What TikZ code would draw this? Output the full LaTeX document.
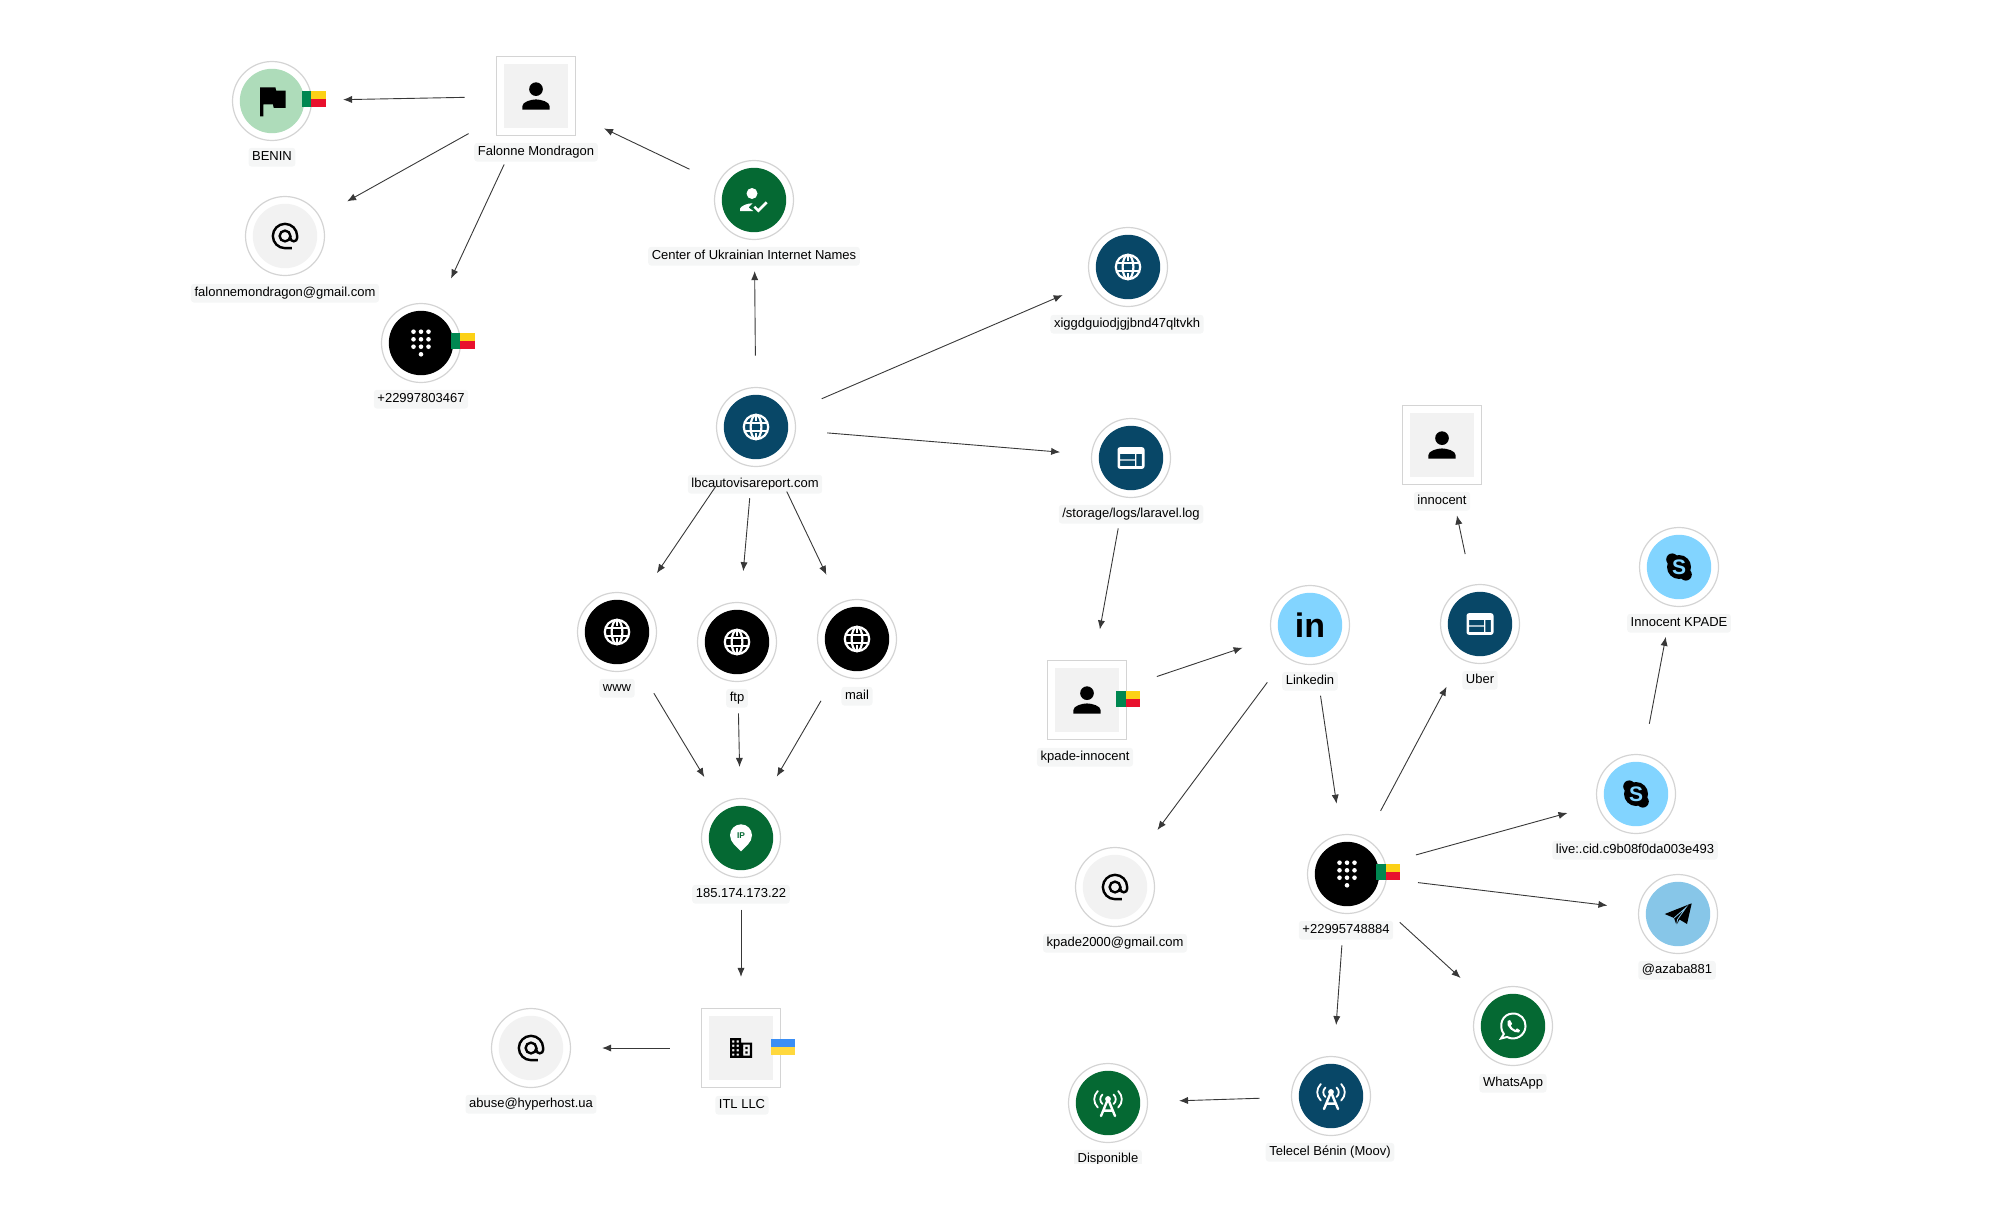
\documentclass[tikz,border=0pt]{standalone}
\usepackage{fontspec}
\setmainfont{Liberation Sans}
\usetikzlibrary{arrows.meta,calc}
\definecolor{ringgray}{RGB}{212,212,212}
\definecolor{softgray}{RGB}{242,242,242}
\definecolor{taggray}{RGB}{245,246,246}
\definecolor{linkgray}{RGB}{56,56,56}
\definecolor{domainblue}{RGB}{8,71,103}
\definecolor{okgreen}{RGB}{5,105,51}
\definecolor{palegreen}{RGB}{174,220,186}
\definecolor{skyblue}{RGB}{130,212,255}
\definecolor{teleblue}{RGB}{135,198,232}
\definecolor{bjgreen}{RGB}{0,135,81}
\definecolor{bjyellow}{RGB}{252,209,22}
\definecolor{bjred}{RGB}{232,17,45}
\definecolor{uablue}{RGB}{58,142,245}
\definecolor{uayellow}{RGB}{255,216,61}
\tikzset{
  ringnode/.style={circle,draw=ringgray,line width=.6pt,fill=white,outer sep=0pt,
    inner sep=0pt,minimum size=39.5pt},
  boxnode/.style={rectangle,draw=ringgray,line width=.6pt,fill=white,outer sep=0pt,
    inner sep=0pt,minimum size=39.5pt},
  disc/.style={path picture={\fill[#1] (path picture bounding box.center) circle (32.2);}},
  tile/.style={path picture={\fill[softgray] ([shift={(-32.2,-32.2)}]path picture bounding box.center)
    rectangle ([shift={(32.2,32.2)}]path picture bounding box.center);}},
  tag/.style={fill=taggray,rounded corners=1.5pt,inner xsep=1.8pt,inner ysep=1.5pt,yshift=-.6pt,
    text height=5pt,text depth=1.4pt,font=\fontsize{6.5}{7}\selectfont,text=black},
  link/.style={draw=linkgray,line width=.45pt,-{Latex[length=4.5pt,width=3.6pt]},
    shorten >=15.8pt,shorten <=16pt},
  material/.style={scale=#1,shift={(-12,-12)}},
  pics/person/.style={code={
    \begin{scope}[material=1.71]
      \fill (12,8) circle (4);
      \fill (4,20) -- (4,18) .. controls (4,15.34) and (9.33,14) .. (12,14)
        .. controls (14.67,14) and (20,15.34) .. (20,18) -- (20,20) -- cycle;
    \end{scope}}},
  pics/flagpole/.style={code={
    \begin{scope}[material=1.71]
      \fill (14.4,6) -- (14,4) -- (5,4) -- (5,21) -- (7,21) -- (7,14) -- (12.6,14)
        -- (13,16) -- (20,16) -- (20,6) -- cycle;
    \end{scope}}},
  pics/atsign/.style={code={
    \begin{scope}[material=1.35]
      \draw[line width=1.2pt] (17,21) -- (12,21) arc (90:360:9) -- (21,13.43)
        arc (0:180:2.5) -- (16,12);
      \draw[line width=1.2pt] (12,12) circle (4);
    \end{scope}}},
  pics/dialpad/.style={code={
    \foreach \dy in {-11.3,-3.7,3.7} \foreach \dx in {-7.5,0,7.5}
      \fill[white] (\dx,\dy) circle (2.3);
    \fill[white] (0,11.3) circle (2.3);}},
  pics/globe/.style={code={
    \begin{scope}[white,line width=1.1pt]
      \draw (0,0) circle (12.2);
      \draw (0,0) ellipse (5.4 and 12.2);
      \draw (-11,-4.3) -- (11,-4.3) (-11,4.3) -- (11,4.3);
      \draw (0,-12.2) -- (0,-6) (0,6) -- (0,12.2);
    \end{scope}}},
  pics/webpage/.style={code={
    \begin{scope}[material=1.35]
      \fill[white,even odd rule] [rounded corners=1.2pt] (2,4) rectangle (22,20)
        [sharp corners] (4,9) rectangle (15,13) (4,14) rectangle (15,18)
        (16,9) rectangle (20,18);
    \end{scope}}},
  pics/verified/.style={code={
    \fill[white] (-2,-6.5) circle (5.5);
    \fill[white] (-14,11) -- (-14,8.5) .. controls (-12,5.5) and (-7,3.3) .. (-1.5,3.3)
      -- (-5.5,7.5) -- (-.7,11) -- cycle;
    \draw[white,line width=1.25pt] (.3,6.7) -- (4.3,10.7) -- (12.7,2.3);}},
  pics/ippin/.style={code={
    \fill[white] (0,13.3) .. controls (-4,9) and (-11,4.5) .. (-11,-2.7)
      arc (180:360:11) .. controls (11,4.5) and (4,9) .. (0,13.3) -- cycle;
    \node[text=okgreen,font=\bfseries\fontsize{4.2}{4}\selectfont,inner sep=0pt] (-text) at (0,-2.7) {IP};}},
  pics/tower/.style={code={
    \begin{scope}[white,line cap=round]
      \fill (0,-4) circle (2.9);
      \draw[line width=1.2pt] (-7,13) -- (0,-4) -- (7,13) (-4,7.6) -- (4,7.6);
      \draw[line width=.9pt] (-5.5,-8.5) .. controls (-8.5,-6) and (-8.5,-1.5) .. (-5.5,1)
        (5.5,-8.5) .. controls (8.5,-6) and (8.5,-1.5) .. (5.5,1)
        (-10.2,-12) .. controls (-15,-7) and (-15,-0.5) .. (-10.2,4.5)
        (10.2,-12) .. controls (15,-7) and (15,-0.5) .. (10.2,4.5);
    \end{scope}}},
  pics/skypelogo/.style={code={
    \fill (0,0) circle (12);
    \fill (-6.8,-7.6) circle (6);
    \fill (6.8,7.6) circle (6);
    \node[text=skyblue,font=\bfseries\fontsize{10.5}{11}\selectfont,inner sep=0pt] (-text) at (0,0) {S};}},
  pics/linkedinlogo/.style={code={
    \node[font=\bfseries\fontsize{17}{17}\selectfont,inner sep=0pt] (-text) at (0,0) {in};}},
  pics/plane/.style={code={
    \fill (-13.3,0) -- (13.7,-10.7) -- (9,10) -- (1.5,5.5) -- (-1.5,11) -- (-4,4) -- cycle;
    \draw[teleblue,line width=.4pt] (-4,4) -- (8,-6.5) -- (-.5,5.5) -- (-1.5,11);}},
  pics/whatsapplogo/.style={code={
    \draw[white,line width=1pt] (-9.2,8) .. controls (-15,0) and (-11,-12.5) .. (0,-12.5)
      .. controls (7.5,-12.5) and (12.5,-7) .. (12.5,0) .. controls (12.5,9) and (3,15.5) .. (-6,11)
      -- (-12,12.5) -- cycle;
    \fill[white] (-5.5,-5) -- (-3,-6) -- (-.8,-2) -- (-2.3,-.5)
      .. controls (-1.5,1.5) and (0,3) .. (2.5,4) -- (4,2.3) -- (7,4.3) -- (6,6.5)
      .. controls (1,7.5) and (-7.5,1) .. (-5.5,-5) -- cycle;}},
  pics/company/.style={code={
    \begin{scope}[material=1.1]
      \fill[even odd rule] (2,3) rectangle (12,21) (12,7) rectangle (22,21)
        (4,5) rectangle (6,7) (8,5) rectangle (10,7)
        (4,9) rectangle (6,11) (8,9) rectangle (10,11)
        (4,13) rectangle (6,15) (8,13) rectangle (10,15)
        (4,17) rectangle (6,19) (8,17) rectangle (10,19)
        (14,9) rectangle (20,19);
      \fill (16,11) rectangle (18,13) (16,15) rectangle (18,17);
      \fill (12,9) rectangle (14,11) (12,13) rectangle (14,15) (12,17) rectangle (14,19);
    \end{scope}}},
  pics/flagbj/.style={code={
    \fill[bjgreen] (-12,-8) rectangle (-2.5,8);
    \fill[bjyellow] (-2.5,-8) rectangle (12,0);
    \fill[bjred] (-2.5,0) rectangle (12,8);}},
  pics/flagua/.style={code={
    \fill[uablue] (-12,-8) rectangle (12,0);
    \fill[uayellow] (-12,0) rectangle (12,8);}},
}
\begin{document}
\begin{tikzpicture}[x=.5pt,y=-.5pt]
  \useasboundingbox (0,0) rectangle (2000,1204);
  % upper left group
  \node[boxnode,tile] (falonne) at (536,96) {};
  \node[ringnode,disc=palegreen] (benin) at (272,101) {};
  \node[ringnode,disc=softgray] (falmail) at (285,236) {};
  \node[ringnode,disc=black] (falphone) at (421,343) {};
  \node[ringnode,disc=okgreen] (ucn) at (754,200) {};
  \pic at (falonne) {person};
  \pic at (benin) {flagpole};
  \pic at (falmail) {atsign};
  \pic at (falphone) {dialpad};
  \pic at (ucn) {verified};
  \pic at ($(benin)+(41.5,-2)$) {flagbj};
  \pic at ($(falphone)+(41.5,-2)$) {flagbj};
  \node[tag] (falonnetag) at (536,151) {Falonne Mondragon};
  \node[tag] (benintag) at (272,156) {BENIN};
  \node[tag] (falmailtag) at (285,292) {falonnemondragon@gmail.com};
  \node[tag] (falphonetag) at (421,398) {+22997803467};
  \node[tag] (ucntag) at (754,255) {Center of Ukrainian Internet Names};

  % domain and its subdomains
  \node[ringnode,disc=domainblue] (domain) at (756,427) {};
  \node[ringnode,disc=domainblue] (onion) at (1128,267) {};
  \node[ringnode,disc=domainblue] (logfile) at (1131,458) {};
  \node[ringnode,disc=black] (www) at (617,632) {};
  \node[ringnode,disc=black] (ftp) at (737,642) {};
  \node[ringnode,disc=black] (mail) at (857,639) {};
  \node[ringnode,disc=okgreen] (ip) at (741,838) {};
  \node[boxnode,tile] (itl) at (741,1048) {};
  \node[ringnode,disc=softgray] (abuse) at (531,1048) {};
  \foreach \n in {domain,onion,www,ftp,mail} \pic at (\n) {globe};
  \pic at (logfile) {webpage};
  \pic (ipicon) at (ip) {ippin};
  \pic at (itl) {company};
  \pic at (abuse) {atsign};
  \pic at ($(itl)+(42,-1)$) {flagua};
  \node[tag] (domaintag) at (755,483) {lbcautovisareport.com};
  \node[tag] (oniontag) at (1127,323) {xiggdguiodjgjbnd47qltvkh};
  \node[tag] (logfiletag) at (1131,513) {/storage/logs/laravel.log};
  \node[tag] (wwwtag) at (617,687) {www};
  \node[tag] (ftptag) at (737,697) {ftp};
  \node[tag] (mailtag) at (857,695) {mail};
  \node[tag] (iptag) at (741,893) {185.174.173.22};
  \node[tag] (itltag) at (742,1104) {ITL LLC};
  \node[tag] (abusetag) at (531,1103) {abuse@hyperhost.ua};

  % right group
  \node[boxnode,tile] (kpade) at (1087,700) {};
  \node[ringnode,disc=skyblue] (linkedin) at (1310,625) {};
  \node[ringnode,disc=softgray] (kpmail) at (1115,887) {};
  \node[ringnode,disc=black] (kpphone) at (1347,874) {};
  \node[ringnode,disc=domainblue] (uber) at (1480,624) {};
  \node[boxnode,tile] (innocent) at (1442,445) {};
  \node[ringnode,disc=skyblue] (skypeid) at (1636,794) {};
  \node[ringnode,disc=skyblue] (skypename) at (1679,567) {};
  \node[ringnode,disc=teleblue] (telegram) at (1678,914) {};
  \node[ringnode,disc=okgreen] (whatsapp) at (1513,1026) {};
  \node[ringnode,disc=domainblue] (telecel) at (1331,1096) {};
  \node[ringnode,disc=okgreen] (disponible) at (1108,1103) {};
  \pic at (kpade) {person};
  \pic at (innocent) {person};
  \pic (inicon) at (linkedin) {linkedinlogo};
  \pic at (kpmail) {atsign};
  \pic at (kpphone) {dialpad};
  \pic at (uber) {webpage};
  \pic (skypeidicon) at (skypeid) {skypelogo};
  \pic (skypenameicon) at (skypename) {skypelogo};
  \pic at (telegram) {plane};
  \pic at (whatsapp) {whatsapplogo};
  \pic at (telecel) {tower};
  \pic at (disponible) {tower};
  \pic at ($(kpade)+(41,-1)$) {flagbj};
  \pic at ($(kpphone)+(41,-2)$) {flagbj};
  \node[tag] (kpadetag) at (1085,756) {kpade-innocent};
  \node[tag] (linkedintag) at (1310,680) {Linkedin};
  \node[tag] (kpmailtag) at (1115,942) {kpade2000@gmail.com};
  \node[tag] (kpphonetag) at (1346,929) {+22995748884};
  \node[tag] (ubertag) at (1480,679) {Uber};
  \node[tag] (innocenttag) at (1442,500) {innocent};
  \node[tag] (skypeidtag) at (1635,849) {live:.cid.c9b08f0da003e493};
  \node[tag] (skypenametag) at (1679,622) {Innocent KPADE};
  \node[tag] (telegramtag) at (1677,969) {@azaba881};
  \node[tag] (whatsapptag) at (1513,1082) {WhatsApp};
  \node[tag] (telecelstag) at (1330,1151) {Telecel Bénin (Moov)};
  \node[tag] (disponibletag) at (1108,1158) {Disponible};
  % the frame ends just under the last label
  \fill[white] (0,1164) rectangle (2000,1204);

  \draw[link] (falonne) -- (benin);
  \draw[link] (falonne) -- (falmail);
  \draw[link] (falonne) -- (falphone);
  \draw[link] (ucn) -- (falonne);
  \draw[link] (domain) -- (ucn);
  \draw[link] (domain) -- (onion);
  \draw[link] (domain) -- (logfile);
  \draw[link] (domain) -- (www);
  \draw[link] (domain) -- (ftp);
  \draw[link] (domain) -- (mail);
  \draw[link] (www) -- (ip);
  \draw[link] (ftp) -- (ip);
  \draw[link] (mail) -- (ip);
  \draw[link] (ip) -- (itl);
  \draw[link] (itl) -- (abuse);
  \draw[link] (logfile) -- (kpade);
  \draw[link] (kpade) -- (linkedin);
  \draw[link] (linkedin) -- (kpmail);
  \draw[link] (linkedin) -- (kpphone);
  \draw[link] (kpphone) -- (uber);
  \draw[link] (uber) -- (innocent);
  \draw[link] (kpphone) -- (skypeid);
  \draw[link] (skypeid) -- (skypename);
  \draw[link] (kpphone) -- (telegram);
  \draw[link] (kpphone) -- (whatsapp);
  \draw[link] (kpphone) -- (telecel);
  \draw[link] (telecel) -- (disponible);
\end{tikzpicture}
\end{document}
